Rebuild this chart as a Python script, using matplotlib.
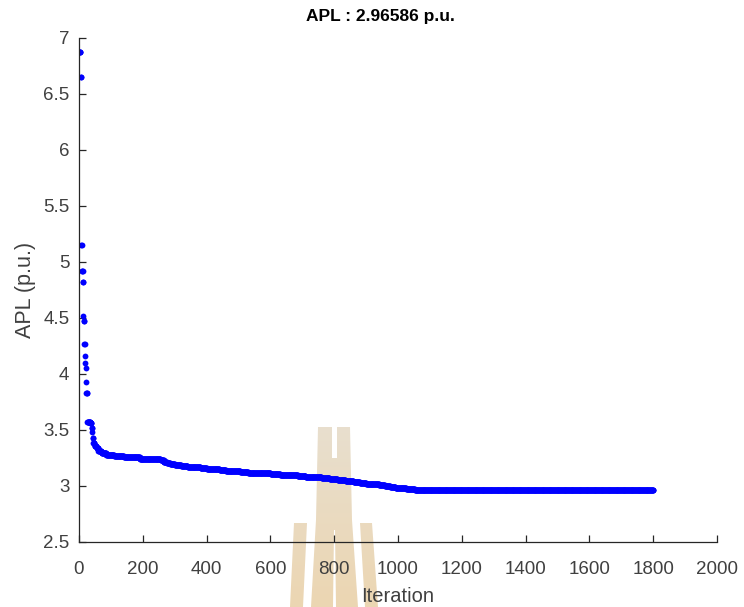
import numpy as np
import matplotlib
matplotlib.use("Agg")
import matplotlib.pyplot as plt
from matplotlib.path import Path
from matplotlib.patches import PathPatch

plt.rcParams['font.family'] = ['Liberation Sans', 'DejaVu Sans']

# Best-so-far APL per iteration, stored as (level, number of iterations at that level)
apl_levels = [6.873, 6.652, 5.155, 4.918, 4.822, 4.520, 4.470, 4.270, 4.160, 4.100,
              4.050, 3.930, 3.830, 3.575, 3.560, 3.520, 3.480, 3.430, 3.380, 3.360,
              3.340, 3.310, 3.295, 3.280, 3.265, 3.255, 3.245,
              3.238, 3.228, 3.215, 3.202, 3.193, 3.186, 3.180, 3.174, 3.168, 3.162,
              3.155, 3.150, 3.145, 3.138, 3.132, 3.126, 3.120, 3.115, 3.108, 3.102,
              3.096, 3.090, 3.083, 3.076, 3.068, 3.061, 3.053, 3.046, 3.038, 3.030,
              3.022, 3.014, 3.006, 2.999, 2.992, 2.985, 2.979, 2.974, 2.970, 2.967,
              2.96586]
run_lengths = [4, 2, 2, 3, 2, 1, 2, 2, 1, 1,
               1, 1, 3, 10, 4, 2, 1, 2, 4, 6,
               6, 10, 15, 25, 30, 50, 55,
               10, 10, 10, 10, 15, 20, 20, 20, 20, 20,
               20, 20, 20, 20, 25, 25, 35, 35, 30, 30,
               25, 25, 25, 25, 25, 25, 25, 25, 20, 20,
               20, 20, 18, 17, 17, 18, 15, 15, 12, 13,
               735]

x_ticks = [0, 200, 400, 600, 800, 1000, 1200, 1400, 1600, 1800, 2000]
y_ticks = [2.5, 3, 3.5, 4, 4.5, 5, 5.5, 6, 6.5, 7]
y_tick_labels = ['2.5', '3', '3.5', '4', '4.5', '5', '5.5', '6', '6.5', '7']

apl = np.repeat(apl_levels, run_lengths)
iteration = np.arange(1, apl.size + 1)

W, H = 744, 607
fig = plt.figure(figsize=(W / 100, H / 100), dpi=100)
fig.patch.set_facecolor('white')

# Background emblem layer (pixel coordinates, y downward)
bg = fig.add_axes([0, 0, 1, 1], zorder=-1)
emblem = [
    [(318, 427), (332, 427), (332, 458), (337, 458), (337, 427), (350, 427),
     (352, 520), (358, 607), (336, 607), (335, 530), (334, 530), (333, 607),
     (311, 607), (316, 520)],
    [(294, 523), (307, 523), (303, 607), (290, 607)],
    [(360, 523), (372, 523), (378, 607), (365, 607)],
]
verts, codes = [], []
for poly in emblem:
    verts += poly + [poly[0]]
    codes += [Path.MOVETO] + [Path.LINETO] * (len(poly) - 1) + [Path.CLOSEPOLY]
clip = PathPatch(Path(verts, codes), facecolor='none', edgecolor='none',
                 transform=bg.transData)
bg.add_patch(clip)
t = np.linspace(0, 1, 256)[:, None, None]
c_top = np.array([232, 223, 207]) / 255
c_bot = np.array([236, 214, 178]) / 255
shade = c_top + (c_bot - c_top) * t
im = bg.imshow(shade, extent=[280, 390, 607, 420], aspect='auto',
               interpolation='bilinear')
im.set_clip_path(clip)
bg.set_xlim(0, W)
bg.set_ylim(H, 0)
bg.axis('off')

# Main axes
ax = fig.add_axes([79 / W, 1 - 542 / H, 638 / W, 504 / H])
ax.set_facecolor('none')
ax.plot(iteration, apl, linestyle='none', marker='o', markersize=4.2,
        markeredgewidth=0, color=(0, 0, 1))

ax.set_xlim(0, 2000)
ax.set_ylim(2.5, 7)
ax.set_xticks(x_ticks)
ax.set_xticklabels([str(v) for v in x_ticks])
ax.set_yticks(y_ticks)
ax.set_yticklabels(y_tick_labels)

for side in ('top', 'right'):
    ax.spines[side].set_visible(False)
for side in ('left', 'bottom'):
    ax.spines[side].set_color('#262626')
    ax.spines[side].set_linewidth(0.9)
ax.tick_params(direction='in', length=5, width=0.9, color='#262626',
               labelcolor='#404040', labelsize=13.5)
ax.tick_params(axis='x', pad=14)
ax.tick_params(axis='y', pad=7)

ax.set_xlabel('Iteration', fontsize=14.5, color='#404040', labelpad=6)
ax.set_ylabel('APL (p.u.)', fontsize=15.5, color='#404040', labelpad=5)
ax.set_title('APL : 2.96586 p.u.', fontsize=12.5, fontweight='bold',
             color='black', x=(380 - 79) / 638, pad=12)

fig.savefig('out.png', dpi=100, facecolor='white')
